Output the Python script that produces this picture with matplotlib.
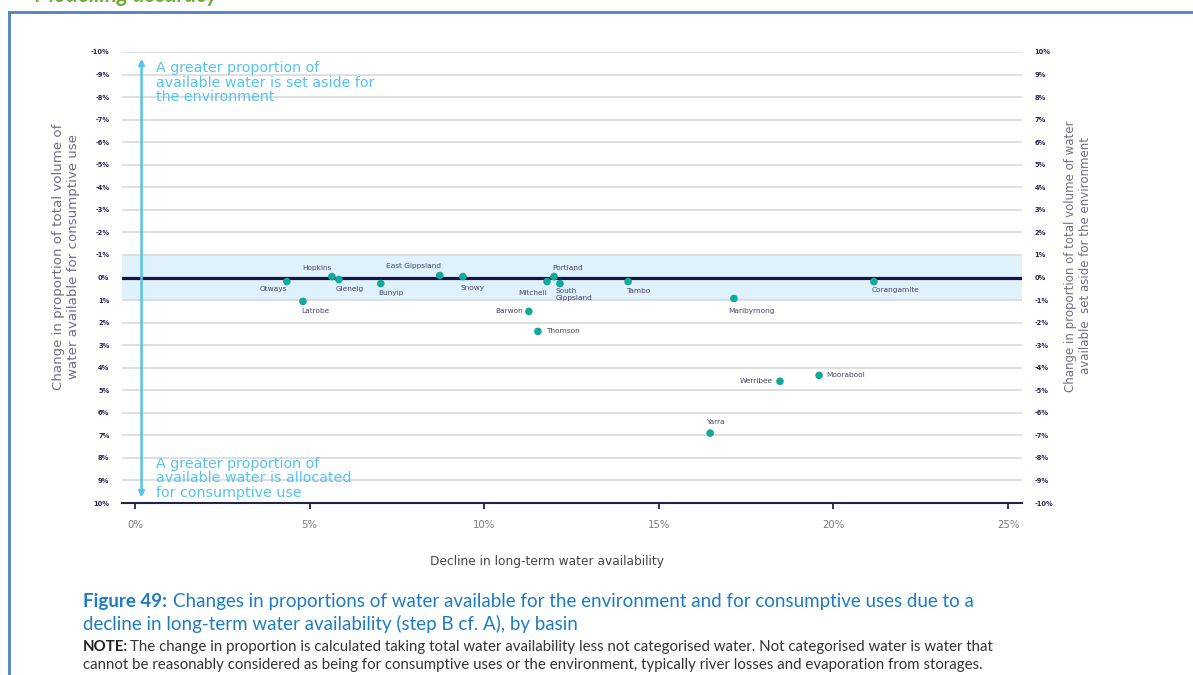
import matplotlib.pyplot as plt
from matplotlib.lines import Line2D

plt.rcParams['font.family'] = ['DejaVu Sans']

# basins: decline in long-term availability (%) vs change in consumptive proportion (%)
basins = ['Otways', 'Latrobe', 'Hopkins', 'Glenelg', 'Bunyip', 'East Gippsland', 'Snowy',
          'Mitchell', 'Portland', 'South\nGippsland', 'Barwon', 'Thomson', 'Tambo',
          'Maribyrnong', 'Corangamite', 'Werribee', 'Moorabool', 'Yarra']
decline = [4.35, 4.81, 5.64, 5.84, 7.04, 8.73, 9.39, 11.8, 12.0, 12.17, 11.28, 11.54,
           14.12, 17.15, 21.16, 18.47, 19.59, 16.47]
change = [0.18, 1.06, -0.04, 0.09, 0.27, -0.09, -0.04, 0.18, -0.04, 0.27, 1.5, 2.39,
          0.18, 0.93, 0.18, 4.6, 4.34, 6.9]

yticks = list(range(-10, 11))
xticks = [0, 5, 10, 15, 20, 25]

# label placement (offset in points, ha, va)
lab_pos = {
    'Otways': (0, -5, 'right', 'center'),
    'Latrobe': (-1, -7, 'left', 'center'),
    'Hopkins': (0, 6, 'right', 'center'),
    'Glenelg': (-2, -7, 'left', 'center'),
    'Bunyip': (-2, -6.5, 'left', 'center'),
    'East Gippsland': (1, 7, 'right', 'center'),
    'Snowy': (-1.5, -8, 'left', 'center'),
    'Mitchell': (0, -8, 'right', 'center'),
    'Portland': (-1, 6, 'left', 'center'),
    'South\nGippsland': (-3, -3, 'left', 'top'),
    'Barwon': (-4, 0.5, 'right', 'center'),
    'Thomson': (6, 0, 'left', 'center'),
    'Tambo': (-1.5, -7, 'left', 'center'),
    'Maribyrnong': (-4, -9, 'left', 'center'),
    'Corangamite': (-2, -6, 'left', 'center'),
    'Werribee': (-5, 0.5, 'right', 'center'),
    'Moorabool': (5, 0, 'left', 'center'),
    'Yarra': (4, 8, 'center', 'center'),
}

navy = '#24224f'
lblue = '#55c3ef'
fig = plt.figure(figsize=(11.93, 6.75), dpi=100)
ax = fig.add_axes([122/1193, 1-503/675, 900/1193, 451/675])

ax.set_xlim(-0.37, 25.4)
ax.set_ylim(10, -10)
ax.axhspan(-1, 1, color='#dff1fb', zorder=0)
for t in yticks:
    if t != 10:
        ax.axhline(t, color='#d9d9d9', lw=1.2, zorder=1)
ax.axhline(0, color='#15144a', lw=2.3, zorder=2)

ax.scatter(decline, change, s=30, color='#12a89b', zorder=4, edgecolors='none')
for name, x, y in zip(basins, decline, change):
    dx, dy, ha, va = lab_pos[name]
    ax.annotate(name, (x, y), xytext=(dx, dy), textcoords='offset points',
                ha=ha, va=va, fontsize=5.3, color='#48466a', zorder=5)

# arrow and notes
ax.annotate('', xy=(0.19, -9.7), xytext=(0.19, 9.75),
            arrowprops=dict(arrowstyle='<|-|>', color=lblue, lw=1.8,
                            mutation_scale=8, shrinkA=0, shrinkB=0))
ax.text(0.6, -9.6, 'A greater proportion of\navailable water is set aside for\nthe environment',
        color=lblue, fontsize=10.3, va='top', ha='left', linespacing=1.05)
ax.text(0.6, 9.85, 'A greater proportion of\navailable water is allocated\nfor consumptive use',
        color=lblue, fontsize=10.3, va='bottom', ha='left', linespacing=1.05)

for s in ['top', 'left', 'right']:
    ax.spines[s].set_visible(False)
ax.spines['bottom'].set_color(navy)
ax.spines['bottom'].set_linewidth(1.5)
ax.set_xticks(xticks)
ax.set_xticklabels([f'{v}%' for v in xticks], color='#7a7a7a', fontsize=7.3)
ax.tick_params(axis='x', direction='out', length=4, width=1.3, color=navy, pad=8)
ax.set_yticks(yticks)
ax.set_yticklabels([f'{v}%' for v in yticks], color=navy, fontsize=4.8, fontweight='bold')
ax.tick_params(axis='y', length=0, pad=9)

ax2 = ax.twinx()
ax2.set_ylim(-10, 10)
ax2.set_yticks(yticks)
ax2.set_yticklabels([f'{v}%' for v in yticks], color=navy, fontsize=4.8, fontweight='bold')
ax2.tick_params(axis='y', length=0, pad=9)
for s in ax2.spines.values():
    s.set_visible(False)

fig.text(66/1193, 1-257/675, 'Change in proportion of total volume of\nwater available for consumptive use',
         rotation=90, ha='center', va='center', fontsize=9.6, color='#6e6e80', linespacing=1.15)
fig.text(1078/1193, 1-256/675, 'Change in proportion of total volume of water\navailable  set aside for the environment',
         rotation=90, ha='center', va='center', fontsize=8.5, color='#6e6e80', linespacing=1.15)
fig.text(547/1193, 1-562/675, 'Decline in long-term water availability', ha='center', va='center',
         fontsize=8.8, color='#444444')

# caption
plt.rcParams['font.family'] = ['Lato', 'DejaVu Sans']
r = fig.canvas.get_renderer()
cap_blue = '#1d7cc4'
t1 = fig.text(83/1193, 1-602/675, 'Figure 49:', fontsize=13.5, fontweight='bold', color=cap_blue, va='center')
bb = t1.get_window_extent(renderer=r)
fig.text((bb.x1 + 6)/1193, 1-602/675,
         'Changes in proportions of water available for the environment and for consumptive uses due to a',
         fontsize=13.5, color=cap_blue, va='center')
fig.text(83/1193, 1-624/675, 'decline in long-term water availability (step B cf. A), by basin',
         fontsize=13.5, color=cap_blue, va='center')
t2 = fig.text(83/1193, 1-647/675, 'NOTE:', fontsize=10.8, fontweight='bold', color='#222222', va='center')
bb = t2.get_window_extent(renderer=r)
fig.text((bb.x1 + 2)/1193, 1-647/675,
         'The change in proportion is calculated taking total water availability less not categorised water. '
         'Not categorised water is water that', fontsize=10.8, color='#333333', va='center')
fig.text(83/1193, 1-665/675,
         'cannot be reasonably considered as being for consumptive uses or the environment, '
         'typically river losses and evaporation from storages.', fontsize=10.8, color='#333333', va='center')

# page frame and cut-off heading
frame = '#4f81bd'
fig.add_artist(Line2D([9/1193, 1], [1-12/675, 1-12/675], color=frame, lw=2))
fig.add_artist(Line2D([9/1193, 9/1193], [0, 1-12/675], color=frame, lw=2))
fig.text(35/1193, 1-2/675, 'Modelling accuracy', fontsize=16, fontweight='bold', style='italic',
         color='#77a83c', va='baseline')

fig.savefig('out.png', dpi=100)
